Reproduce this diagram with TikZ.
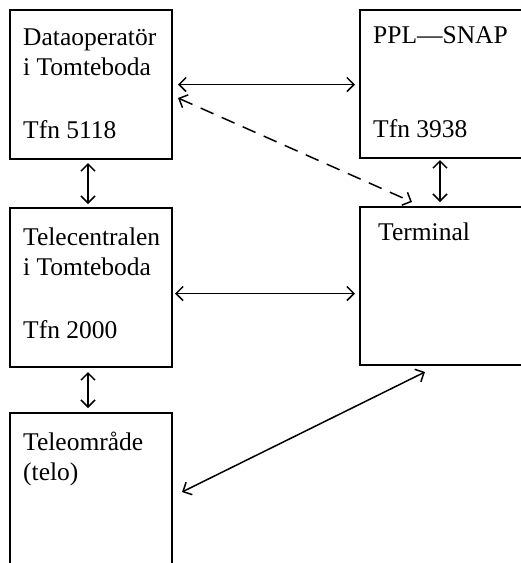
\documentclass[tikz,border=0pt]{standalone}
\usepackage{fontspec}
\setmainfont{Liberation Serif}
\usetikzlibrary{arrows.meta}
\begin{document}
\begin{tikzpicture}[x=1pt,y=-1pt,
  boxnode/.style={draw,line width=1.8pt,rectangle,inner sep=0pt,outer sep=0pt,anchor=north west},
  lbl/.style={anchor=base west,inner sep=0pt,font=\fontsize{25.5}{30}\selectfont},
  conn/.style={line width=1.5pt,{Straight Barb[length=7pt,width=14pt,line width=1.5pt]}-{Straight Barb[length=7pt,width=14pt,line width=1.5pt]}}]
\clip (0,0) rectangle (521,563);
\fill[white] (0,0) rectangle (521,563);
% boxes
\node[boxnode,minimum width=162pt,minimum height=149pt] (b1) at (10,10) {};
\node[boxnode,minimum width=200pt,minimum height=148pt] (b2) at (360,10) {};
\node[boxnode,minimum width=162pt,minimum height=159pt] (b3) at (10,208) {};
\node[boxnode,minimum width=200pt,minimum height=158pt] (b4) at (360,207) {};
\node[boxnode,minimum width=162pt,minimum height=200pt] (b5) at (10,413) {};
% labels
\node[lbl] (t1a) at (23,45) {Dataoperatör};
\node[lbl] (t1b) at (23,75) {i Tomteboda};
\node[lbl] (t1c) at (23,138) {Tfn 5118};
\node[lbl] (t2a) at (373,43) {PPL—SNAP};
\node[lbl] (t2c) at (373,137) {Tfn 3938};
\node[lbl] (t3a) at (23,245) {Telecentralen};
\node[lbl] (t3b) at (23,275) {i Tomteboda};
\node[lbl] (t3c) at (23,338) {Tfn 2000};
\node[lbl] (t4a) at (378,240) {Terminal};
\node[lbl] (t5a) at (23,450) {Teleområde};
\node[lbl] (t5b) at (23,480) {(telo)};
% connectors
\draw[conn,shorten <=6pt,shorten >=5pt] (b1.east) -- (b1.east -| b2.west);
\draw[conn,shorten <=3pt,shorten >=5pt] ([yshift=-6pt]b3.east) -- ([yshift=-6pt]b3.east -| b4.west);
\draw[conn,shorten <=4pt,shorten >=4pt] ([xshift=-3pt]b1.south) -- ([xshift=-3pt]b3.north);
\draw[conn,shorten <=2pt,shorten >=5pt] ([xshift=80pt]b2.south west) -- ([xshift=80pt]b4.north west);
\draw[conn,shorten <=5pt,shorten >=5pt] ([xshift=-3pt]b3.south) -- ([xshift=-3pt]b5.north);
\coordinate (d1) at ([xshift=6pt,yshift=-13.5pt]b1.east);
\coordinate (d2) at ([xshift=52pt,yshift=5pt]b4.north west);
\draw[conn,dash pattern=on 14pt off 9pt] (d1) -- (d2);
\coordinate (g1) at ([xshift=65pt,yshift=-7pt]b4.south west);
\coordinate (g2) at ([xshift=10pt,yshift=21pt]b5.east);
\draw[conn] (g1) -- (g2);
\end{tikzpicture}
\end{document}
